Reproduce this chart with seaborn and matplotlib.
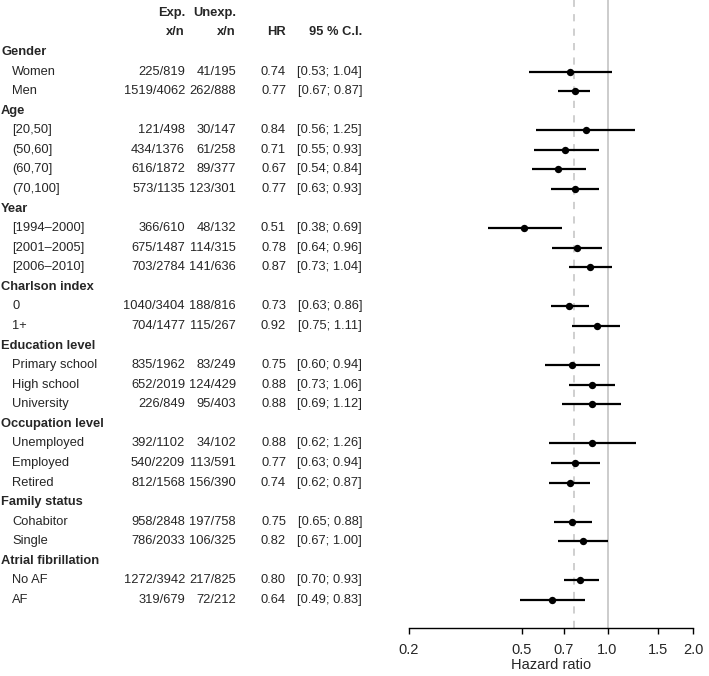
import matplotlib
matplotlib.use("Agg")
import matplotlib.pyplot as plt
import matplotlib.transforms as mtransforms
import seaborn as sns
import numpy as np
import pandas as pd

sns.set_theme(style="white")
plt.rcParams['font.family'] = ['Liberation Sans', 'DejaVu Sans']

# ---- data ----
labels = ["Gender", "Women", "Men",
          "Age", "[20,50]", "(50,60]", "(60,70]", "(70,100]",
          "Year", "[1994\u20132000]", "[2001\u20132005]", "[2006\u20132010]",
          "Charlson index", "0", "1+",
          "Education level", "Primary school", "High school", "University",
          "Occupation level", "Unemployed", "Employed", "Retired",
          "Family status", "Cohabitor", "Single",
          "Atrial fibrillation", "No AF", "AF"]
is_header = [True, False, False,
             True, False, False, False, False,
             True, False, False, False,
             True, False, False,
             True, False, False, False,
             True, False, False, False,
             True, False, False,
             True, False, False]
exp_xn = ["", "225/819", "1519/4062",
          "", "121/498", "434/1376", "616/1872", "573/1135",
          "", "366/610", "675/1487", "703/2784",
          "", "1040/3404", "704/1477",
          "", "835/1962", "652/2019", "226/849",
          "", "392/1102", "540/2209", "812/1568",
          "", "958/2848", "786/2033",
          "", "1272/3942", "319/679"]
unexp_xn = ["", "41/195", "262/888",
            "", "30/147", "61/258", "89/377", "123/301",
            "", "48/132", "114/315", "141/636",
            "", "188/816", "115/267",
            "", "83/249", "124/429", "95/403",
            "", "34/102", "113/591", "156/390",
            "", "197/758", "106/325",
            "", "217/825", "72/212"]
hr = [np.nan, 0.74, 0.77,
      np.nan, 0.84, 0.71, 0.67, 0.77,
      np.nan, 0.51, 0.78, 0.87,
      np.nan, 0.73, 0.92,
      np.nan, 0.75, 0.88, 0.88,
      np.nan, 0.88, 0.77, 0.74,
      np.nan, 0.75, 0.82,
      np.nan, 0.80, 0.64]
lower = [np.nan, 0.53, 0.67,
         np.nan, 0.56, 0.55, 0.54, 0.63,
         np.nan, 0.38, 0.64, 0.73,
         np.nan, 0.63, 0.75,
         np.nan, 0.60, 0.73, 0.69,
         np.nan, 0.62, 0.63, 0.62,
         np.nan, 0.65, 0.67,
         np.nan, 0.70, 0.49]
upper = [np.nan, 1.04, 0.87,
         np.nan, 1.25, 0.93, 0.84, 0.93,
         np.nan, 0.69, 0.96, 1.04,
         np.nan, 0.86, 1.11,
         np.nan, 0.94, 1.06, 1.12,
         np.nan, 1.26, 0.94, 0.87,
         np.nan, 0.88, 1.00,
         np.nan, 0.93, 0.83]
overall_hr = 0.76
xticks = [0.2, 0.5, 0.7, 1.0, 1.5, 2.0]
xticklabels = ["0.2", "0.5", "0.7", "1.0", "1.5", "2.0"]

df = pd.DataFrame({"label": labels, "hr": hr, "lower": lower, "upper": upper,
                   "row": np.arange(len(labels))})
est = df.dropna()

# ---- figure ----
W, H = 709, 676
fig = plt.figure(figsize=(W / 100, H / 100), dpi=100)
ax_left, ax_right = 409 / W, 693 / W
ax_bottom = 1 - 628 / H
ax = fig.add_axes([ax_left, ax_bottom, ax_right - ax_left, 1 - ax_bottom])

row0_px, row_step = 52.0, 19.57
ax.set_xscale("log")
ax.set_xlim(0.2, 2.0)
ax.set_ylim((628 - row0_px) / row_step, (0 - row0_px) / row_step)

ax.axvline(1.0, color="#c8c8c8", lw=1.3, zorder=1)
ax.axvline(overall_hr, color="#cccccc", lw=1.3, ls=(0, (4, 4)), zorder=1)

ax.hlines(est["row"], est["lower"], est["upper"], color="black", lw=1.6, zorder=2)
sns.scatterplot(data=est, x="hr", y="row", ax=ax, color="black", s=28,
                edgecolor="black", linewidth=0, zorder=3, legend=False)

for s in ["left", "top", "right"]:
    ax.spines[s].set_visible(False)
ax.spines["bottom"].set_color("black")
ax.spines["bottom"].set_linewidth(1.0)
ax.set_xticks(xticks)
ax.set_xticklabels(xticklabels, fontsize=10.5)
ax.xaxis.set_minor_locator(matplotlib.ticker.NullLocator())
ax.tick_params(axis="x", direction="out", length=4.5, width=1.0, color="black",
               pad=6, bottom=True)
ax.set_yticks([])
ax.set_xlabel("Hazard ratio", fontsize=10.5, labelpad=1)
ax.set_ylabel("")

# ---- text table ----
trans = mtransforms.blended_transform_factory(fig.transFigure, ax.transData)
fs = 9.3
def fx(px):
    return px / W

# column headers
ax.text(fx(185), -2, "Exp.", transform=trans, ha="right", va="center",
        fontsize=fs, fontweight="bold")
ax.text(fx(236), -2, "Unexp.", transform=trans, ha="right", va="center",
        fontsize=fs, fontweight="bold")
ax.text(fx(185), -1, "x/n", transform=trans, ha="right", va="center",
        fontsize=fs, fontweight="bold")
ax.text(fx(236), -1, "x/n", transform=trans, ha="right", va="center",
        fontsize=fs, fontweight="bold")
ax.text(fx(286), -1, "HR", transform=trans, ha="right", va="center",
        fontsize=fs, fontweight="bold")
ax.text(fx(362), -1, "95 % C.I.", transform=trans, ha="right", va="center",
        fontsize=fs, fontweight="bold")

for i, lab in enumerate(labels):
    if is_header[i]:
        ax.text(fx(1), i, lab, transform=trans, ha="left", va="center",
                fontsize=fs, fontweight="bold")
    else:
        ax.text(fx(12), i, lab, transform=trans, ha="left", va="center", fontsize=fs)
        ax.text(fx(185), i, exp_xn[i], transform=trans, ha="right", va="center", fontsize=fs)
        ax.text(fx(236), i, unexp_xn[i], transform=trans, ha="right", va="center", fontsize=fs)
        ax.text(fx(286), i, f"{hr[i]:.2f}", transform=trans, ha="right", va="center", fontsize=fs)
        ax.text(fx(362), i, f"[{lower[i]:.2f}; {upper[i]:.2f}]", transform=trans,
                ha="right", va="center", fontsize=fs)

fig.savefig("out.png", dpi=100, facecolor="white")
